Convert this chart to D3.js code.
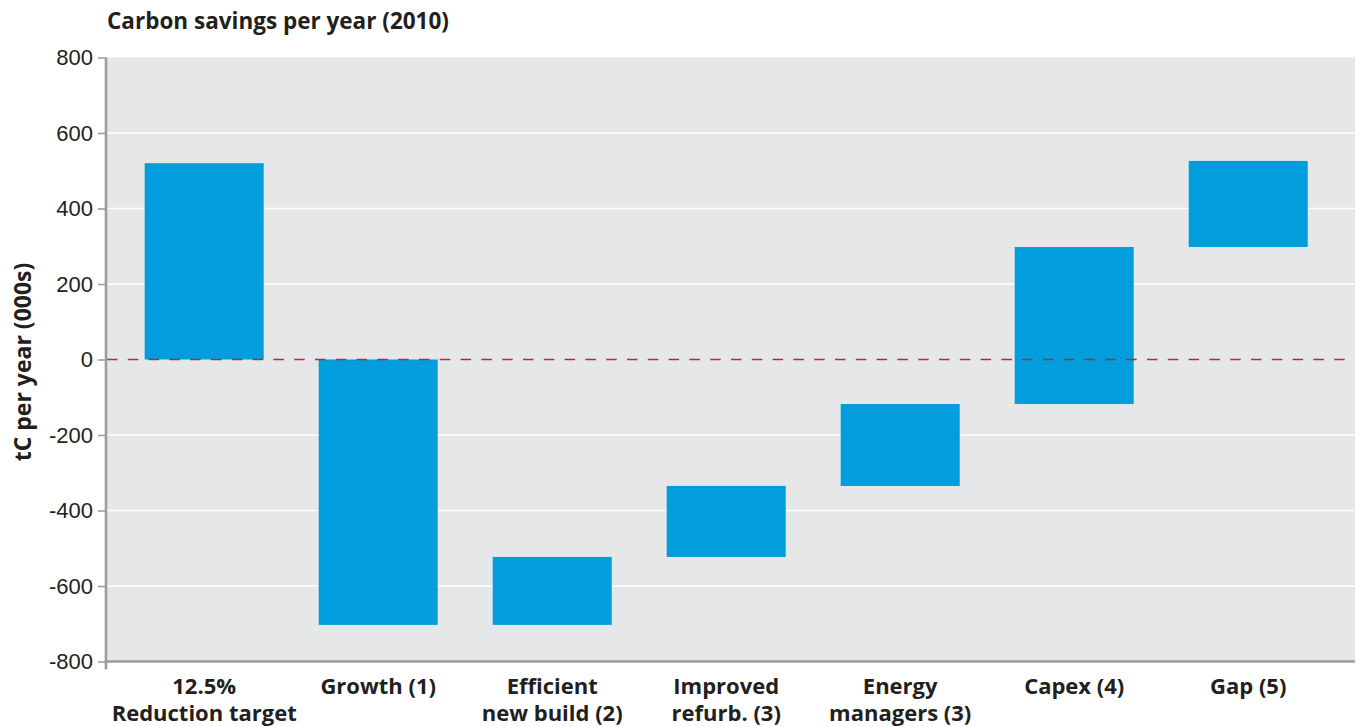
<!DOCTYPE html>
<html>
<head>
<meta charset="utf-8">
<script src="https://cdn.jsdelivr.net/npm/d3@7"></script>
<style>
  html, body { margin: 0; padding: 0; background: #ffffff; }
  svg { display: block; }
</style>
</head>
<body>
<svg id="chart" width="1359" height="727"></svg>
<script>
// Carbon savings waterfall (thousand tC per year, 2010)
const categories = [
  ["12.5%", "Reduction target"],
  ["Growth (1)"],
  ["Efficient", "new build (2)"],
  ["Improved", "refurb. (3)"],
  ["Energy", "managers (3)"],
  ["Capex (4)"],
  ["Gap (5)"]
];
// each bar runs from barStart to barEnd
const barStart = [0, 0, -703, -523, -335, -118, 298];
const barEnd   = [520, -703, -523, -335, -118, 298, 526];
const yTicks = [-800, -600, -400, -200, 0, 200, 400, 600, 800];

const titleText = "Carbon savings per year (2010)";
const yTitle = "tC per year (000s)";

const svg = d3.select("#chart");

const plot = { left: 106, right: 1355, top: 57.5, bottom: 661.5 };

const x = d3.scaleBand()
  .domain(d3.range(categories.length))
  .range([plot.left, plot.right])
  .paddingInner(0.316)
  .paddingOuter(0.247)
  .align(0.45);

const y = d3.scaleLinear()
  .domain([-800, 800])
  .range([plot.bottom, plot.top]);

// plot background
svg.append("rect")
  .attr("x", plot.left).attr("y", plot.top)
  .attr("width", plot.right - plot.left)
  .attr("height", plot.bottom - plot.top)
  .attr("fill", "#e6e7e9");

// white gridlines
svg.append("g")
  .selectAll("line")
  .data(yTicks.filter(d => d !== 0 && Math.abs(d) !== 800))
  .join("line")
  .attr("x1", plot.left).attr("x2", plot.right)
  .attr("y1", d => y(d)).attr("y2", d => y(d))
  .attr("stroke", "#ffffff")
  .attr("stroke-width", 1.6);

// bars
svg.append("g")
  .selectAll("rect")
  .data(categories.map((c, i) => ({ i, s: barStart[i], e: barEnd[i] })))
  .join("rect")
  .attr("x", d => x(d.i))
  .attr("width", x.bandwidth())
  .attr("y", d => y(Math.max(d.s, d.e)))
  .attr("height", d => Math.abs(y(d.s) - y(d.e)))
  .attr("fill", "#029ddd");

// dashed zero line
svg.append("line")
  .attr("x1", plot.left + 1).attr("x2", plot.right)
  .attr("y1", y(0)).attr("y2", y(0))
  .attr("stroke", "#a3313d")
  .attr("stroke-width", 1.4)
  .attr("stroke-dasharray", "10.5,10.3");

// y axis
const yAxis = d3.axisLeft(y)
  .tickValues(yTicks)
  .tickSize(8)
  .tickPadding(5)
  .tickFormat(d => String(d));

const gy = svg.append("g")
  .attr("transform", `translate(${plot.left},0)`)
  .call(yAxis);
gy.select(".domain").remove();
gy.selectAll(".tick line").attr("stroke", "#9d9d9d").attr("stroke-width", 1.6);
gy.selectAll(".tick text")
  .attr("fill", "#231f20")
  .style("font-family", "'Liberation Sans', Arial, sans-serif")
  .style("font-size", "22px");

// axis lines
svg.append("line")
  .attr("x1", plot.left).attr("x2", plot.left)
  .attr("y1", plot.top).attr("y2", plot.bottom + 8)
  .attr("stroke", "#9d9d9d").attr("stroke-width", 2.6);
svg.append("line")
  .attr("x1", plot.left - 1.3).attr("x2", plot.right)
  .attr("y1", plot.bottom).attr("y2", plot.bottom)
  .attr("stroke", "#9d9d9d").attr("stroke-width", 2.6);

// category labels
const labels = svg.append("g")
  .selectAll("text")
  .data(categories.map((c, i) => ({ i, lines: c })))
  .join("text")
  .attr("text-anchor", "middle")
  .attr("fill", "#231f20")
  .style("font-family", "'Open Sans', sans-serif")
  .style("font-weight", "bold")
  .style("font-size", "22px");
labels.selectAll("tspan")
  .data(d => d.lines.map(l => ({ l, cx: x(d.i) + x.bandwidth() / 2 })))
  .join("tspan")
  .attr("x", d => d.cx)
  .attr("y", (d, k) => 694 + k * 27)
  .text(d => d.l);

// chart title
svg.append("text")
  .attr("x", 107).attr("y", 29)
  .attr("fill", "#231f20")
  .style("font-family", "'Open Sans', sans-serif")
  .style("font-weight", "bold")
  .style("font-size", "22.5px")
  .text(titleText);

// y axis title
svg.append("text")
  .attr("transform", `translate(31,362) rotate(-90)`)
  .attr("text-anchor", "middle")
  .attr("fill", "#231f20")
  .style("font-family", "'Open Sans', sans-serif")
  .style("font-weight", "bold")
  .style("font-size", "23px")
  .text(yTitle);
</script>
</body>
</html>
